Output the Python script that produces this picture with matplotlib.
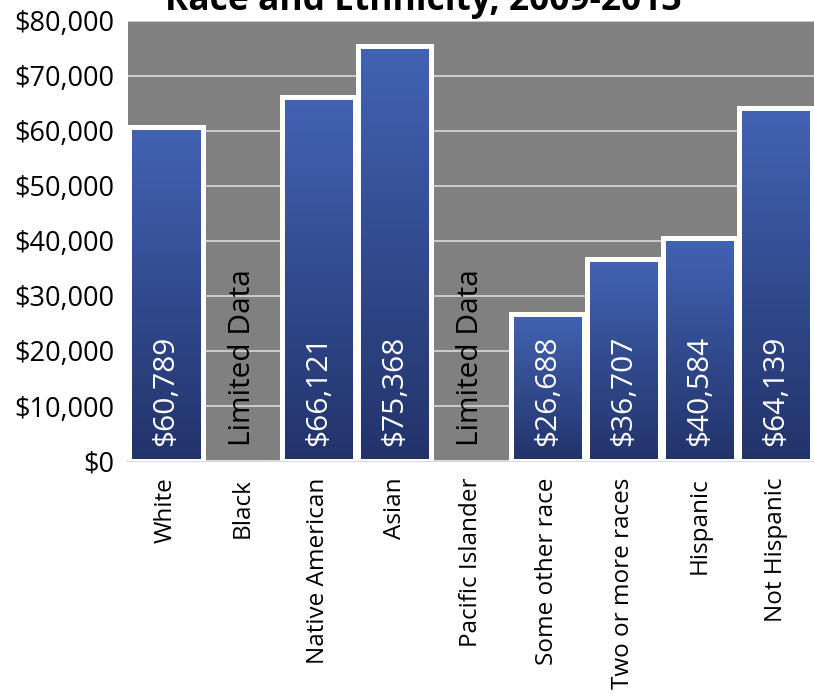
import numpy as np
import matplotlib
matplotlib.use("Agg")
from matplotlib import pyplot as plt
from matplotlib.colors import LinearSegmentedColormap

groups = ["White", "Black", "Native American", "Asian", "Pacific Islander",
          "Some other race", "Two or more races", "Hispanic", "Not Hispanic"]
income = [60789, None, 66121, 75368, None, 26688, 36707, 40584, 64139]
bar_labels = ["$60,789", "Limited Data", "$66,121", "$75,368", "Limited Data",
              "$26,688", "$36,707", "$40,584", "$64,139"]
yticks = [0, 10000, 20000, 30000, 40000, 50000, 60000, 70000, 80000]
title = "Race and Ethnicity, 2009-2013"


def main():
    plt.rcParams['font.family'] = ['Open Sans', 'DejaVu Sans']
    fig = plt.figure(figsize=(8.14, 6.96), dpi=100)
    ax = fig.add_axes([0.157, 0.3376, 0.843, 0.6324])
    ax.set_facecolor('#808080')

    cmap = LinearSegmentedColormap.from_list('bluegrad', ['#22336a', '#4263b3'])
    grad = np.linspace(0, 1, 256).reshape(-1, 1)
    x = np.arange(len(groups))
    width = 0.96
    for i, v in enumerate(income):
        if v is None:
            continue
        bar = ax.bar(x[i], v, width=width, facecolor='none', edgecolor='white',
                     linewidth=3.6, zorder=3)[0]
        im = ax.imshow(grad, cmap=cmap, origin='lower', aspect='auto',
                       extent=[x[i] - width / 2, x[i] + width / 2, 0, v], zorder=2)
        im.set_clip_path(bar)

    for i, lab in enumerate(bar_labels):
        color = 'black' if income[i] is None else 'white'
        ax.text(x[i], 2700, lab, rotation=90, ha='center', va='bottom',
                fontsize=21.5, color=color, zorder=4)

    ax.set_xlim(-0.5, len(groups) - 0.5)
    ax.set_ylim(0, 80000)
    ax.set_yticks(yticks)
    ax.set_yticklabels([f"${t:,}" for t in yticks], fontsize=19.5)
    ax.set_xticks(x)
    ax.set_xticklabels(groups, rotation=90, fontsize=17.5)
    ax.tick_params(length=0, pad=10)
    ax.tick_params(axis='x', pad=12)
    ax.grid(axis='y', color='#d9d9d9', linewidth=1.2)
    ax.set_axisbelow(True)
    for s in ['top', 'right', 'left']:
        ax.spines[s].set_visible(False)
    ax.spines['bottom'].set_color('#d9d9d9')
    ax.spines['bottom'].set_linewidth(1.5)

    fig.text(0.52, 0.986, title, ha='center', va='baseline', fontsize=25.5,
             fontweight='bold')
    fig.savefig('out.png', dpi=100)


if __name__ == '__main__':
    main()
